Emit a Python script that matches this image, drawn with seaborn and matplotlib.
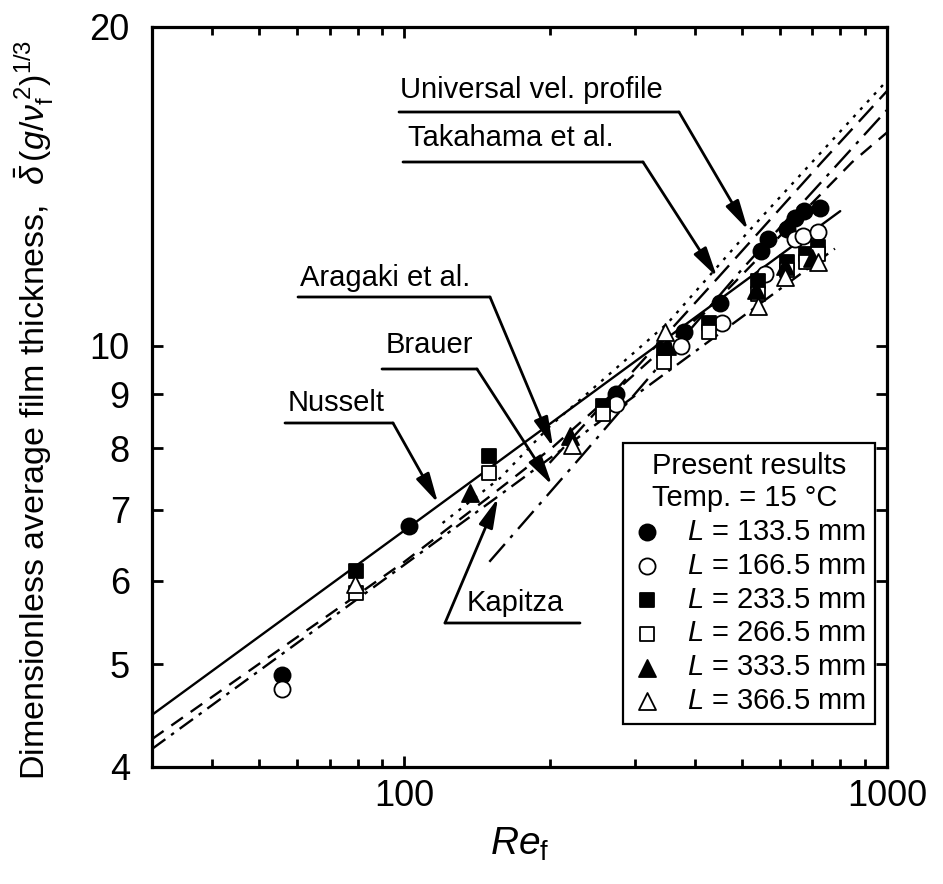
import numpy as np
import pandas as pd
import matplotlib
matplotlib.use("Agg")
import matplotlib.pyplot as plt
import seaborn as sns

# ---------------- data ----------------
RE_NUSSELT = [30, 100, 800]
D_NUSSELT = [4.48, 6.69, 13.4]

RE_KAPITZA = [30, 156, 780]
D_KAPITZA = [4.16, 7.2, 12.35]

RE_ARAGAKI = [30, 100, 150, 203, 300, 450, 846, 1000]
D_ARAGAKI = [4.25, 6.25, 7.2, 8.02, 9.4, 11.1, 14.9, 15.9]

RE_BRAUER = [150, 232, 500, 1000]
D_BRAUER = [6.25, 7.85, 11.8, 16.7]

RE_TAKAHAMA = [200, 447, 732, 1000]
D_TAKAHAMA = [7.75, 11.6, 14.9, 17.4]

RE_UNIVERSAL = [120, 158, 200, 351, 518, 1000]
D_UNIVERSAL = [6.8, 7.5, 8.39, 10.5, 12.84, 17.8]

# measured points, one list per length L
RE_L1335 = [55.7, 102, 274, 379, 450, 548, 568, 620, 644, 673, 725]
D_L1335 = [4.89, 6.76, 9.0, 10.3, 10.97, 12.3, 12.6, 12.9, 13.2, 13.4, 13.5]
RE_L1665 = [55.7, 274, 375, 455, 560, 644, 670, 720]
D_L1665 = [4.74, 8.8, 10.0, 10.5, 11.7, 12.6, 12.7, 12.8]
RE_L2335 = [79.4, 149.5, 258, 345, 428, 540, 620, 680, 720]
D_L2335 = [6.13, 7.86, 8.77, 9.9, 10.5, 11.5, 12.0, 12.2, 12.4]
RE_L2665 = [79.4, 149.5, 258, 345, 428, 540, 620, 680, 720]
D_L2665 = [5.84, 7.58, 8.62, 9.65, 10.3, 11.2, 11.8, 12.0, 12.2]
RE_L3335 = [136.6, 220, 350, 535, 615, 700]
D_L3335 = [7.26, 8.22, 10.0, 11.3, 11.9, 12.1]
RE_L3665 = [79, 222, 347, 540, 615, 720]
D_L3665 = [5.95, 8.05, 10.3, 10.9, 11.6, 12.0]

LEGEND_LABELS = ["$L$ = 133.5 mm", "$L$ = 166.5 mm", "$L$ = 233.5 mm",
                 "$L$ = 266.5 mm", "$L$ = 333.5 mm", "$L$ = 366.5 mm"]
X_TICKS = [100, 1000]
X_TICK_LABELS = ["100", "1000"]
Y_TICKS = [4, 5, 6, 7, 8, 9, 10, 20]
Y_TICK_LABELS = ["4", "5", "6", "7", "8", "9", "10", "20"]

# ---------------- style ----------------
sns.set_theme(style="ticks")
plt.rcParams["font.family"] = ["Liberation Sans", "DejaVu Sans"]
plt.rcParams["mathtext.fontset"] = "custom"
plt.rcParams["mathtext.rm"] = "Liberation Sans"
plt.rcParams["mathtext.it"] = "Liberation Sans:italic"
plt.rcParams["mathtext.bf"] = "Liberation Sans:bold"
for k in ["text.color", "axes.labelcolor", "xtick.color", "ytick.color", "axes.edgecolor"]:
    plt.rcParams[k] = "black"

W, H = 943, 884
fig = plt.figure(figsize=(W / 100, H / 100), dpi=100)
ax = fig.add_axes([152 / W, 1 - 767 / H, 735 / W, 740 / H])
ax.set_xscale("log")
ax.set_yscale("log")
ax.set_xlim(30, 1000)
ax.set_ylim(4, 20)

LW = 1.7
def draw_line(xs, ys, dashes=None):
    n0 = len(ax.lines)
    sns.lineplot(x=xs, y=ys, ax=ax, color="black", linewidth=LW,
                 sort=False, estimator=None)
    ln = ax.lines[n0]
    if dashes is not None:
        ln.set_dashes(dashes)
    ln.set_dash_capstyle("butt")

draw_line(RE_NUSSELT, D_NUSSELT)
draw_line(RE_KAPITZA, D_KAPITZA, [7, 3, 1.5, 3])
draw_line(RE_ARAGAKI, D_ARAGAKI, [6, 4])
draw_line(RE_BRAUER, D_BRAUER, [10, 3.5, 1.5, 3.5])
draw_line(RE_TAKAHAMA, D_TAKAHAMA, [9, 4])
draw_line(RE_UNIVERSAL, D_UNIVERSAL, [1.3, 3])

series = [
    (RE_L1335, D_L1335, "o", "black", 135),
    (RE_L1665, D_L1665, "o", "white", 135),
    (RE_L2335, D_L2335, "s", "black", 105),
    (RE_L2665, D_L2665, "s", "white", 105),
    (RE_L3335, D_L3335, "^", "black", 150),
    (RE_L3665, D_L3665, "^", "white", 150),
]
handles = []
for (xs, ys, m, fc, s), lab in zip(series, LEGEND_LABELS):
    n0 = len(ax.collections)
    sns.scatterplot(x=xs, y=ys, ax=ax, marker=m, s=s, legend=False, zorder=5)
    coll = ax.collections[n0]
    coll.set_facecolor(fc)
    coll.set_edgecolor("black")
    coll.set_linewidth(1.3)
    coll.set_label(lab)
    handles.append(coll)

# ---------------- axes / ticks ----------------
for sp in ax.spines.values():
    sp.set_linewidth(2.3)
    sp.set_color("black")
    sp.set_visible(True)
ax.set_xticks(X_TICKS)
ax.set_xticklabels(X_TICK_LABELS)
ax.set_xticks([v * d for d in (10, 100) for v in range(2, 10) if 30 <= v * d <= 1000], minor=True)
ax.xaxis.set_minor_formatter(matplotlib.ticker.NullFormatter())
ax.set_yticks(Y_TICKS)
ax.set_yticklabels(Y_TICK_LABELS)
ax.set_yticks([], minor=True)
ax.tick_params(which="both", direction="in", top=True, right=True, color="black", width=2)
ax.tick_params(which="major", length=8, labelsize=26)
ax.tick_params(which="minor", length=6)
ax.tick_params(axis="x", which="major", pad=9)
ax.tick_params(axis="y", which="major", pad=16)

ax.set_xlabel(r"$Re_{\mathrm{f}}$", fontsize=28, labelpad=8)
ax.set_ylabel(r"Dimensionless average film thickness,  $\bar{\delta}\,(g/\nu_{\mathrm{f}}^{\,2})^{1/3}$",
              fontsize=24.5)
ax.yaxis.set_label_coords((56 - 152) / 735, 0.482)

# ---------------- legend ----------------
leg = ax.legend(handles=handles, labels=LEGEND_LABELS,
                title="Present results\nTemp. = 15 °C",
                loc="upper right", bbox_to_anchor=((875 - 152) / 735, (767 - 443) / 740),
                fontsize=21, title_fontsize=21, frameon=True, fancybox=False,
                edgecolor="black", framealpha=1, borderpad=0.3, labelspacing=0.2,
                handlelength=1.0, handletextpad=0.9, borderaxespad=0)
leg.get_frame().set_linewidth(1.6)
leg._legend_box.align = "center"

# ---------------- annotations (figure pixel coordinates) ----------------
def P(x, y):
    return (x, H - y)

def label(text, tx, ty, ux0, ux1, uy, tip, start_left=False):
    fig.text(tx / W, 1 - ty / H, text, fontsize=21, ha="left", va="center")
    ax.annotate("", xy=P(ux1, uy), xytext=P(ux0, uy), xycoords="figure pixels",
                textcoords="figure pixels",
                arrowprops=dict(arrowstyle="-", lw=2, color="black", shrinkA=0, shrinkB=0))
    sx = ux0 if start_left else ux1
    ax.annotate("", xy=P(*tip), xytext=P(sx, uy), xycoords="figure pixels",
                textcoords="figure pixels",
                arrowprops=dict(arrowstyle="-|>,head_length=0.9,head_width=0.22", lw=2,
                                color="black", shrinkA=0, shrinkB=0, mutation_scale=20))

label("Universal vel. profile", 400, 90, 399, 679, 112, (748, 230))
label("Takahama et al.", 408, 138, 403, 643, 162, (717, 277))
label("Aragaki et al.", 300, 278, 298, 490, 297, (553, 447))
label("Brauer", 386, 345, 382, 477, 369, (552, 485))
label("Nusselt", 288, 403, 285, 393, 423, (438, 503))
label("Kapitza", 467, 603, 445, 580, 623, (498, 498), start_left=True)

fig.savefig("out.png", dpi=100)
